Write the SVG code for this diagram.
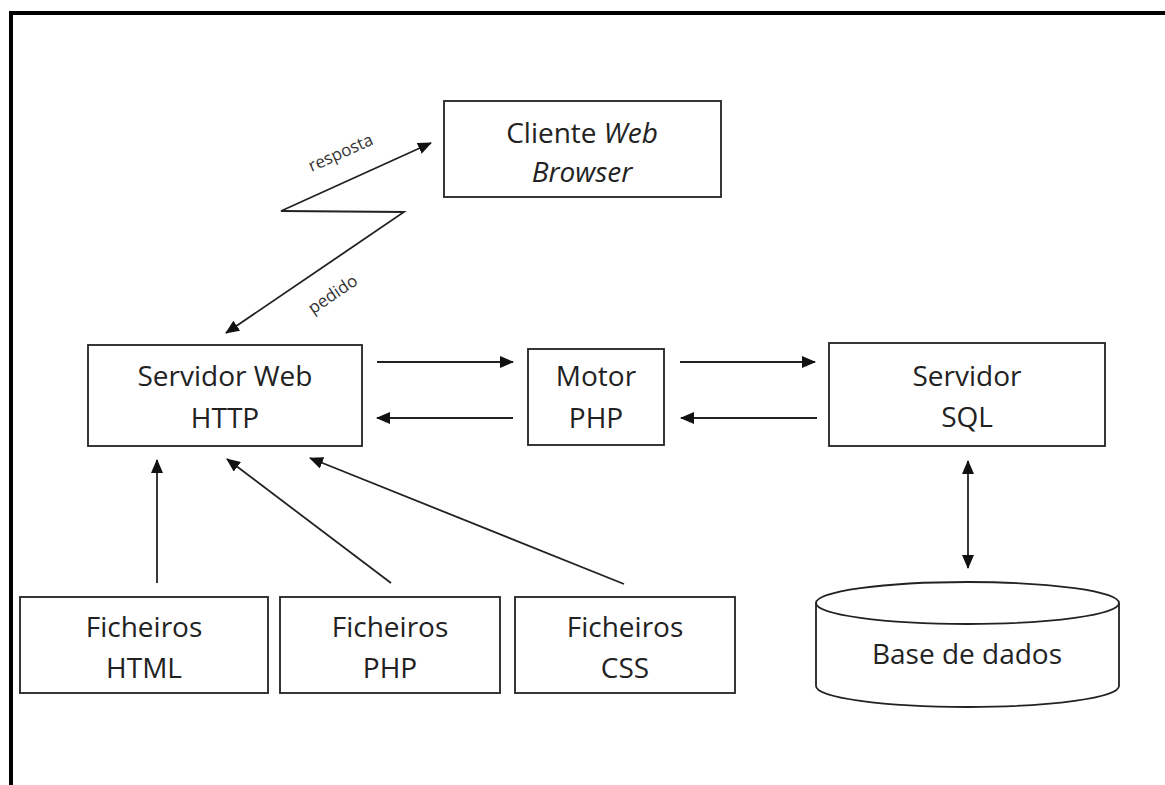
<svg xmlns="http://www.w3.org/2000/svg" width="1165" height="785" viewBox="0 0 1165 785">
  <style>
    .box { fill: #fff; stroke: #222; stroke-width: 1.8; }
    .lbl { font-family: "Open Sans", "Liberation Sans", sans-serif; font-size: 28px; fill: #222; text-anchor: middle; }
    .small { font-family: "Open Sans", "Liberation Sans", sans-serif; font-size: 17px; fill: #333; text-anchor: middle; }
    .edge { fill: none; stroke: #222; stroke-width: 1.8; }
  </style>
  <defs>
    <marker id="arrow" viewBox="0 0 14 12" refX="13" refY="6" markerWidth="14" markerHeight="12" markerUnits="userSpaceOnUse" orient="auto-start-reverse">
      <path d="M0,0 L14,6 L0,12 Z" fill="#111"/>
    </marker>
  </defs>

  <rect width="1165" height="785" fill="#fff"/>

  <!-- page frame -->
  <g id="frame" stroke="#000" stroke-width="4" fill="none">
    <line x1="9" y1="13" x2="1165" y2="13"/>
    <line x1="11" y1="11" x2="11" y2="785"/>
  </g>

  <g id="cliente">
    <rect class="box" x="444" y="101" width="277" height="96"/>
    <text class="lbl" x="582" y="143">Cliente <tspan font-style="italic">Web</tspan></text>
    <text class="lbl" x="582" y="182" font-style="italic">Browser</text>
  </g>

  <g id="servidor-web">
    <rect class="box" x="88" y="345" width="274" height="101"/>
    <text class="lbl" x="225" y="386">Servidor Web</text>
    <text class="lbl" x="225" y="428">HTTP</text>
  </g>

  <g id="motor-php">
    <rect class="box" x="528" y="349" width="136" height="96"/>
    <text class="lbl" x="596" y="386">Motor</text>
    <text class="lbl" x="596" y="428">PHP</text>
  </g>

  <g id="servidor-sql">
    <rect class="box" x="829" y="343" width="276" height="103"/>
    <text class="lbl" x="967" y="386">Servidor</text>
    <text class="lbl" x="967" y="427">SQL</text>
  </g>

  <g id="ficheiros-html">
    <rect class="box" x="20" y="597" width="248" height="96"/>
    <text class="lbl" x="144" y="637">Ficheiros</text>
    <text class="lbl" x="144" y="678">HTML</text>
  </g>

  <g id="ficheiros-php">
    <rect class="box" x="280" y="597" width="220" height="96"/>
    <text class="lbl" x="390" y="637">Ficheiros</text>
    <text class="lbl" x="390" y="678">PHP</text>
  </g>

  <g id="ficheiros-css">
    <rect class="box" x="515" y="597" width="220" height="96"/>
    <text class="lbl" x="625" y="637">Ficheiros</text>
    <text class="lbl" x="625" y="678">CSS</text>
  </g>

  <g id="base-dados">
    <path class="box" d="M816,603 L816,686 A151.5,21 0 0 0 1119,686 L1119,603"/>
    <ellipse class="box" cx="967.5" cy="603" rx="151.5" ry="21"/>
    <text class="lbl" x="967" y="664">Base de dados</text>
  </g>

  <g id="connectors">
    <!-- request / response zigzag -->
    <polyline class="edge" points="226,333 404,212 281,211 431,143" marker-start="url(#arrow)" marker-end="url(#arrow)"/>
    <text class="small" transform="translate(343,158) rotate(-24)">resposta</text>
    <text class="small" transform="translate(336,299) rotate(-34)">pedido</text>

    <line class="edge" x1="377" y1="362" x2="513" y2="362" marker-end="url(#arrow)"/>
    <line class="edge" x1="513" y1="418" x2="377" y2="418" marker-end="url(#arrow)"/>
    <line class="edge" x1="680" y1="362" x2="815" y2="362" marker-end="url(#arrow)"/>
    <line class="edge" x1="817" y1="418" x2="681" y2="418" marker-end="url(#arrow)"/>

    <line class="edge" x1="968" y1="461" x2="968" y2="568" marker-start="url(#arrow)" marker-end="url(#arrow)"/>

    <line class="edge" x1="157" y1="583" x2="157" y2="460" marker-end="url(#arrow)"/>
    <line class="edge" x1="391" y1="583" x2="227" y2="459" marker-end="url(#arrow)"/>
    <line class="edge" x1="624" y1="584" x2="310" y2="458" marker-end="url(#arrow)"/>
  </g>
</svg>
